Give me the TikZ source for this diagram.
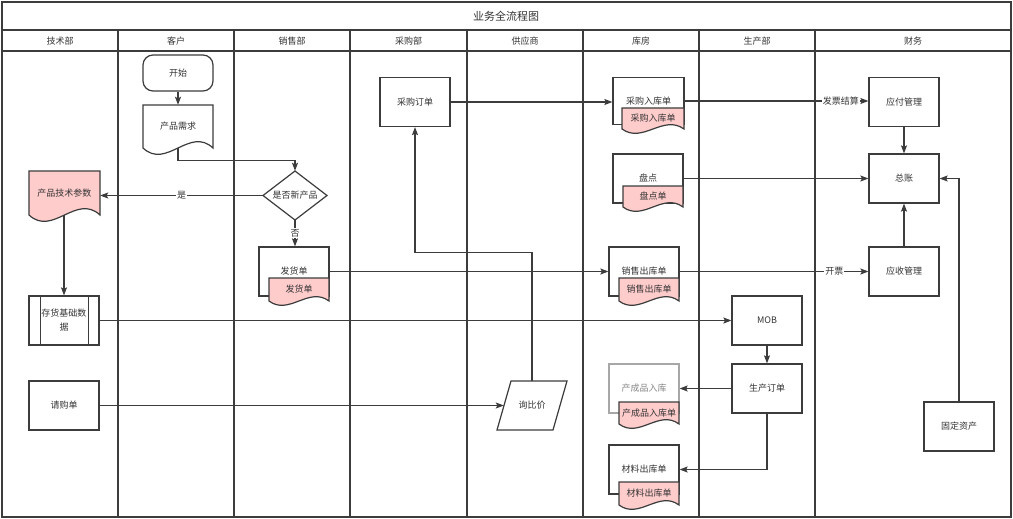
\documentclass[tikz,border=0pt]{standalone}
\usepackage{fontspec}
\setmainfont{Noto Sans CJK SC}
\usetikzlibrary{arrows.meta,calc}
\definecolor{lc}{HTML}{3C3C3C}
\definecolor{tc}{HTML}{333333}
\definecolor{pk}{HTML}{FFCCCC}
\pgfdeclarelayer{lanes}\pgfdeclarelayer{conn}\pgfsetlayers{lanes,conn,main}
\tikzset{
 txt/.style={font=\fontsize{9}{14}\selectfont, text=tc, inner sep=0pt, align=center},
 box/.style={txt, draw=lc, fill=white, line width=1.2pt, minimum width=70, minimum height=49},
 shp/.style={draw=lc, line width=1.2pt},
 lane/.style={draw=lc, line width=1.5pt},
 arr/.style={draw=lc, line width=1.1pt, -{Stealth[length=8pt,width=6pt,inset=1.5pt]}},
 lbl/.style={txt, fill=white, inner sep=1pt},
}
\newcommand{\docnode}[8]{%
 \draw[shp, fill=#6] ({#2-#4/2},#3) -- ({#2+#4/2},#3) -- ({#2+#4/2},{#3+#5})
 .. controls ({#2+#4/2-#4/3},{#3+#5-#7}) and ({#2-#4/2+#4/3},{#3+#5+#7}) .. ({#2-#4/2},{#3+#5}) -- cycle;
 \node[txt, minimum width=#4, minimum height=#5] (#1) at (#2,{#3+#5/2}) {#8};
}
\begin{document}
\begin{tikzpicture}[x=1pt,y=-1pt]
\useasboundingbox (0,0) rectangle (1013,519);
\begin{pgfonlayer}{lanes}
\fill[white] (0,0) rectangle (1013,519);
\draw[lane] (2,2) rectangle (1011,517);
\draw[lane] (2,30) -- (1011,30);
\draw[lane] (2,51) -- (1011,51);
\foreach \x in {118,234,350,467,583,699,815} \draw[lane] (\x,30) -- (\x,517);
\end{pgfonlayer}
% titles
\node[txt, font=\fontsize{11}{13}\selectfont] (title) at (506,16) {业务全流程图};
\node[txt] (h1) at (60,41) {技术部};
\node[txt] (h2) at (176,41) {客户};
\node[txt] (h3) at (292,41) {销售部};
\node[txt] (h4) at (408.5,41) {采购部};
\node[txt] (h5) at (525,41) {供应商};
\node[txt] (h6) at (641,41) {库房};
\node[txt] (h7) at (757,41) {生产部};
\node[txt] (h8) at (913,41) {财务};
% customer
\node[box, rounded corners=10pt, minimum height=36] (start) at (178,73) {开始};
\docnode{req}{178}{105}{70}{43}{white}{22}{产品需求}
% sales
\draw[shp, fill=white] (295,171) -- (327,195.5) -- (295,220) -- (263,195.5) -- cycle;
\node[txt, minimum width=64, minimum height=49] (dia) at (295,195.5) {是否新产品};
\node[box] (fh) at (294,271.5) {发货单};
\docnode{fhd}{299}{278}{60}{23}{pk}{15}{发货单}
% tech
\docnode{tech}{64.5}{171}{71}{44}{pk}{22}{产品技术参数}
\node[box] (inv) at (64,320.5) {存货基础数\\据};
\draw[shp] ($(inv.north west)+(12,0)$) -- ($(inv.south west)+(12,0)$);
\draw[shp] ($(inv.north east)+(-11,0)$) -- ($(inv.south east)+(-11,0)$);
\node[box] (qg) at (64,405.5) {请购单};
% purchase
\node[box] (cgdd) at (415,102) {采购订单};
% supplier
\draw[shp, fill=white] (511,381) -- (567,381) -- (553,430) -- (497,430) -- cycle;
\node[txt, minimum width=56, minimum height=49] (xbj) at (532,405.5) {询比价};
% warehouse
\node[box, minimum width=71, minimum height=47] (rk1) at (648.5,101) {采购入库单};
\docnode{rk1d}{653}{108}{62}{21}{pk}{15}{采购入库单}
\node[box] (pd) at (648,178.5) {盘点};
\docnode{pdd}{653}{186}{60}{21}{pk}{15}{盘点单}
\node[box] (ck) at (644,271.5) {销售出库单};
\docnode{ckd}{649}{278}{60}{23}{pk}{15}{销售出库单}
\node[box, draw=lc!45, text=tc!60] (cp) at (644,388.5) {产成品入库};
\docnode{cpd}{649}{402}{60}{22}{pk}{15}{产成品入库单}
\node[box] (cl) at (644,469.5) {材料出库单};
\docnode{cld}{649}{482}{60}{23}{pk}{15}{材料出库单}
% production
\node[box] (mob) at (767,320.5) {MOB};
\node[box] (scdd) at (767,388.5) {生产订单};
% finance
\node[box] (yfgl) at (904,102) {应付管理};
\node[box] (zz) at (904,178.5) {总账};
\node[box] (ysgl) at (904,271.5) {应收管理};
\node[box] (gdzc) at (959,426.5) {固定资产};
% connectors
\begin{pgfonlayer}{conn}
\draw[arr] (start) -- (req);
\draw[arr] (req.south) -- ++(0,12) -| (dia.north);
\draw[arr] (dia.west) -- (dia.west -| tech.east) node[lbl, pos=0.5] {是};
\draw[arr] (tech.south -| inv.north) -- (inv.north);
\draw[arr] (inv) -- (mob);
\draw[arr] (qg) -- (xbj.west);
\draw[arr] (xbj.north) -- ++(0,-128) -| (cgdd.south);
\draw[arr] (cgdd.east) -- (cgdd.east -| rk1.west);
\draw[arr] (rk1.east) -- (rk1.east -| yfgl.west) node[lbl, pos=0.85] {发票结算};
\draw[arr] (pd.east) -- (pd.east -| zz.west);
\draw[arr] (yfgl) -- (zz);
\draw[arr] (ysgl) -- (zz);
\draw[arr] (gdzc.north) |- (zz.east);
\draw[arr] (dia.south) -- (dia.south |- fh.north) node[lbl, midway] {否};
\draw[arr] (fh.east) -- (fh.east -| ck.west);
\draw[arr] (ck.east) -- (ck.east -| ysgl.west) node[lbl, pos=0.82] {开票};
\draw[arr] (mob) -- (scdd);
\draw[arr] (scdd.west) -- (scdd.west -| cp.east);
\draw[arr] (scdd.south) |- (cl.east);
\end{pgfonlayer}
\end{tikzpicture}
\end{document}
